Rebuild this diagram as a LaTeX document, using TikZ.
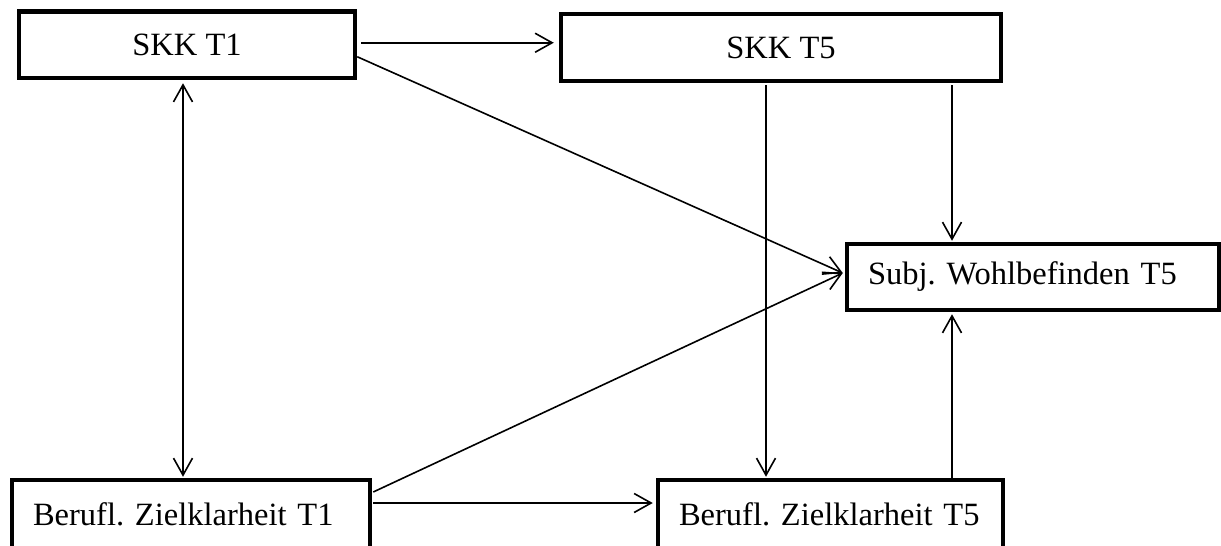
\documentclass[tikz,border=0pt]{standalone}
\usepackage{fontspec}
\setmainfont{Liberation Serif}
\usetikzlibrary{arrows.meta}
\frenchspacing
\tikzset{
  mybarb/.tip={Straight Barb[length=17pt,width=19pt]},
  box/.style={draw=black, line width=4.5pt, outer sep=2.25pt, inner sep=0pt,
    font=\fontsize{32.5}{39}\selectfont},
  ctrbox/.style={box, align=center},
  lftbox/.style={box, align=left, inner xsep=21pt},
  link/.style={line width=1.6pt, -{mybarb}},
  duallink/.style={line width=1.6pt, {mybarb}-{mybarb}}
}
\begin{document}
\begin{tikzpicture}[x=1pt,y=-1pt]
  \useasboundingbox (0,0) rectangle (1221,546);

  % boxes
  \node[ctrbox, minimum width=336pt, minimum height=66.5pt] (skkA) at (187,44.75) {SKK T1};
  \node[ctrbox, minimum width=440pt, minimum height=67pt] (skkB) at (781,47.5) {SKK T5};
  \node[lftbox, text width=330pt, minimum height=66pt] (swb) at (1033,277) {Subj. Wohlbefinden T5};
  \node[lftbox, text width=316pt, minimum height=68pt] (bzA) at (191,514) {Berufl. Zielklarheit T1};
  \node[lftbox, text width=303pt, minimum height=68pt] (bzB) at (830.5,514) {Berufl. Zielklarheit T5};

  % paths from the T1 measures
  \draw[link] ([xshift=4pt,yshift=2pt]skkA.east) coordinate (h1)
    -- ([xshift=-5pt]h1 -| skkB.west);
  \draw[link] ([yshift=-12pt]skkA.east) -- ([xshift=-2pt,yshift=4pt]swb.west);
  \draw[link] ([xshift=1pt,yshift=22pt]bzA.east) -- ([xshift=-2pt,yshift=4pt]swb.west);
  \draw[link] ([xshift=1pt,yshift=11pt]bzA.east) coordinate (h2)
    -- ([xshift=-3pt]h2 -| bzB.west);
  \draw[duallink] ([xshift=-4pt,yshift=-3pt]skkA.south) coordinate (v1)
    -- ([yshift=1pt]v1 |- bzA.north);

  % paths from the T5 measures
  \draw[link] ([xshift=-15pt,yshift=-2pt]skkB.south) coordinate (v2)
    -- ([yshift=1pt]v2 |- bzB.north);
  \draw[link] ([xshift=171pt,yshift=-2pt]skkB.south) coordinate (v3)
    -- ([yshift=1pt]v3 |- swb.north);
  \draw[link] (v3 |- bzB.north) -- ([yshift=-2pt]v3 |- swb.south);
\end{tikzpicture}
\end{document}
